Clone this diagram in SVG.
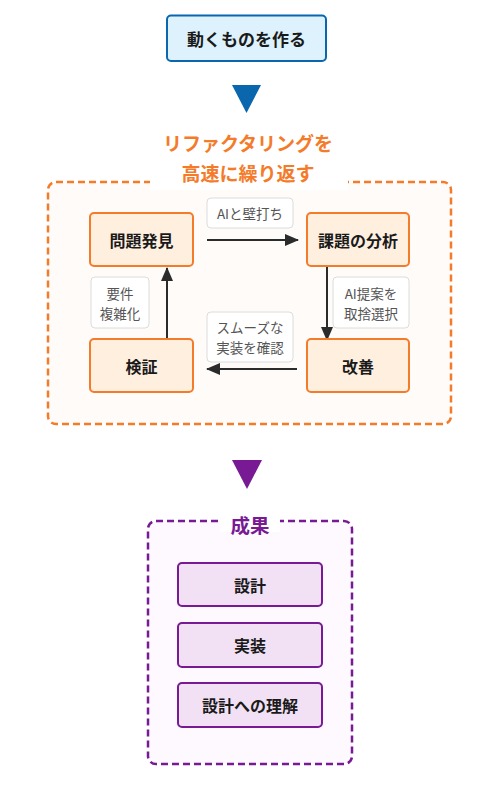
<svg xmlns="http://www.w3.org/2000/svg" width="501" height="797" viewBox="0 0 501 797">
<style>
text{font-family:"Noto Sans CJK JP","Noto Sans",sans-serif;text-anchor:middle;dominant-baseline:central}
.node{fill:#ffefdf;stroke:#f47b2a;stroke-width:2}
.ntext{font-size:16px;font-weight:700;fill:#1a1a1a}
.lab{fill:#ffffff;stroke:#dcdcdc;stroke-width:1}
.ltext{font-size:13.5px;fill:#555555}
.out{fill:#f2e1f4;stroke:#771a94;stroke-width:2}
.conn{stroke:#2b2b2b;stroke-width:2;fill:none}
</style>
<defs>
<marker id="ah" viewBox="0 0 14 12" refX="13" refY="6" markerWidth="14" markerHeight="12" markerUnits="userSpaceOnUse" orient="auto">
<path d="M0,0 L14,6 L0,12 Z" fill="#2b2b2b"/>
</marker>
</defs>
<rect width="501" height="797" fill="#ffffff"/>
<g id="start">
<rect x="167" y="15.5" width="159" height="45.5" rx="4" fill="#ddf2fd" stroke="#0a67ae" stroke-width="2"/>
<text x="246.5" y="38.5" style="font-size:17px;font-weight:700;fill:#1a1a1a">動くものを作る</text>
</g>
<g id="arrow-blue"><path d="M232,85 L261,85 L246.5,113 Z" fill="#0a67ae"/></g>
<g id="loop">
<rect x="48" y="182" width="403" height="242" rx="8" fill="#fffbf8" stroke="#f47b2a" stroke-width="2.5" stroke-dasharray="7,4"/>
<rect x="150" y="170" width="198" height="20" fill="#ffffff"/>
<text x="248" y="142" style="font-size:19px;font-weight:700;fill:#f47b2a">リファクタリングを</text>
<text x="248" y="172" style="font-size:19px;font-weight:700;fill:#f47b2a">高速に繰り返す</text>
</g>
<g id="connectors">
<line class="conn" x1="207" y1="240" x2="298" y2="240" marker-end="url(#ah)"/>
<line class="conn" x1="327" y1="266" x2="327" y2="340" marker-end="url(#ah)"/>
<line class="conn" x1="297" y1="369" x2="207" y2="369" marker-end="url(#ah)"/>
<line class="conn" x1="167" y1="339" x2="167" y2="268" marker-end="url(#ah)"/>
</g>
<g id="n-mondai"><rect class="node" x="90" y="213" width="103" height="53" rx="4"/><text class="ntext" x="141.5" y="239.5">問題発見</text></g>
<g id="n-bunseki"><rect class="node" x="307" y="213" width="102" height="53" rx="4"/><text class="ntext" x="358" y="239.5">課題の分析</text></g>
<g id="n-kensho"><rect class="node" x="90" y="339" width="103" height="53" rx="4"/><text class="ntext" x="141.5" y="365.5">検証</text></g>
<g id="n-kaizen"><rect class="node" x="307" y="339" width="102" height="53" rx="4"/><text class="ntext" x="358" y="365.5">改善</text></g>
<g id="l-kabeuchi"><rect class="lab" x="207" y="198" width="86" height="30" rx="4"/><text class="ltext" x="250" y="213">AIと壁打ち</text></g>
<g id="l-teian"><rect class="lab" x="333" y="277" width="76" height="51" rx="4"/><text class="ltext" x="371" y="292.5">AI提案を</text><text class="ltext" x="371" y="312.5">取捨選択</text></g>
<g id="l-yoken"><rect class="lab" x="91" y="277" width="58" height="51" rx="4"/><text class="ltext" x="120" y="292.5">要件</text><text class="ltext" x="120" y="312.5">複雑化</text></g>
<g id="l-smooth"><rect class="lab" x="207" y="312" width="86" height="50" rx="4"/><text class="ltext" x="250" y="327">スムーズな</text><text class="ltext" x="250" y="347">実装を確認</text></g>
<g id="arrow-purple"><path d="M232,460 L262,460 L247,489 Z" fill="#771a94"/></g>
<g id="result">
<rect x="148" y="521" width="204" height="243" rx="8" fill="#fdf9ff" stroke="#771a94" stroke-width="2.5" stroke-dasharray="7,4"/>
<rect x="220" y="510" width="60" height="22" fill="#ffffff"/>
<text x="250" y="524" style="font-size:19.5px;font-weight:700;fill:#771a94">成果</text>
</g>
<g id="o-sekkei"><rect class="out" x="178" y="563" width="144" height="43" rx="4"/><text class="ntext" x="250" y="584.5">設計</text></g>
<g id="o-jisso"><rect class="out" x="178" y="623" width="144" height="44" rx="4"/><text class="ntext" x="250" y="645">実装</text></g>
<g id="o-rikai"><rect class="out" x="178" y="683" width="144" height="44" rx="4"/><text class="ntext" x="250" y="705">設計への理解</text></g>
</svg>
